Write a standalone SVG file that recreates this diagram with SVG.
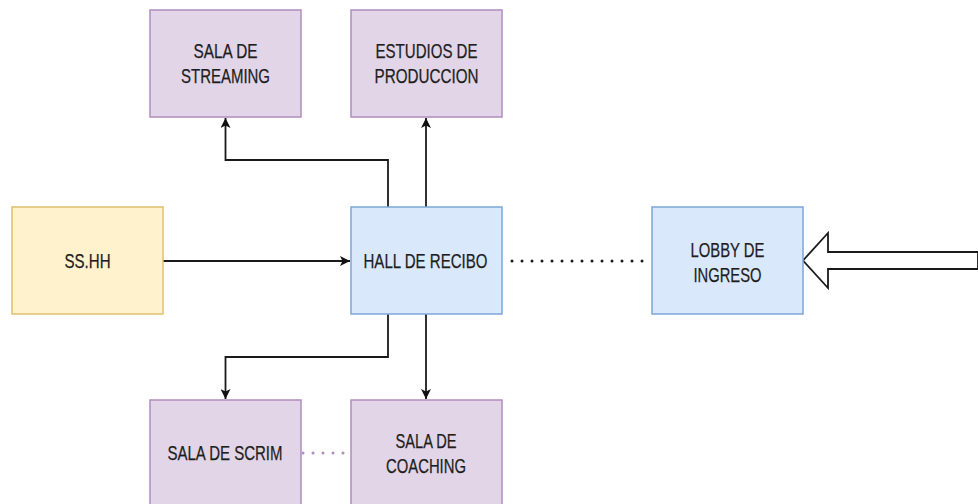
<svg xmlns="http://www.w3.org/2000/svg" width="978" height="504" viewBox="0 0 978 504">
  <style>
    .box { stroke-width: 1.5; }
    .purple { fill: #e1d5e7; stroke: #b08cc0; }
    .yellow { fill: #fff2cc; stroke: #e0c070; }
    .blue { fill: #dae8fc; stroke: #7ea6d8; }
    .lbl { font-family: "Liberation Sans", Arial, sans-serif; font-size: 20px; fill: #1e1e1e; stroke: #1e1e1e; stroke-width: 0.25; text-anchor: middle; }
    .edge { fill: none; stroke: #1a1a1a; stroke-width: 1.8; }
    .dots { fill: none; stroke: #1a1a1a; stroke-width: 3; stroke-dasharray: 0 10; stroke-linecap: round; }
    .pdots { fill: none; stroke: #b08cc0; stroke-width: 3; stroke-dasharray: 0 10; stroke-linecap: round; }
  </style>
  <defs>
    <marker id="arrow" viewBox="0 0 10 10" refX="10" refY="5" markerWidth="11" markerHeight="10" orient="auto" markerUnits="userSpaceOnUse">
      <path d="M0,0 L10,5 L0,10 L2.5,5 Z" fill="#111"/>
    </marker>
  </defs>
  <rect width="978" height="504" fill="#ffffff"/>

  <g id="connectors">
    <path class="edge" d="M388,207 V160 H225.5 V118" marker-end="url(#arrow)"/>
    <path class="edge" d="M426,207 V118" marker-end="url(#arrow)"/>
    <path class="edge" d="M163,261 H350" marker-end="url(#arrow)"/>
    <path class="edge" d="M388,314 V357 H225.5 V399" marker-end="url(#arrow)"/>
    <path class="edge" d="M426,314 V399" marker-end="url(#arrow)"/>
    <path class="dots" d="M512,261 H648"/>
    <path class="pdots" d="M303,453 H345"/>
    <path d="M803,260.5 L828,233 L828,252 L978,252 L978,269 L828,269 L828,288 Z" fill="#ffffff" stroke="#1a1a1a" stroke-width="1.8" stroke-linejoin="miter"/>
  </g>

  <g id="sala-streaming">
    <rect class="box purple" x="150" y="10" width="151" height="107"/>
    <text class="lbl" x="225.5" y="58" textLength="64" lengthAdjust="spacingAndGlyphs">SALA DE</text>
    <text class="lbl" x="225.5" y="83" textLength="89" lengthAdjust="spacingAndGlyphs">STREAMING</text>
  </g>

  <g id="estudios-produccion">
    <rect class="box purple" x="351" y="10" width="151" height="107"/>
    <text class="lbl" x="426.5" y="58" textLength="102" lengthAdjust="spacingAndGlyphs">ESTUDIOS DE</text>
    <text class="lbl" x="426.5" y="83" textLength="104" lengthAdjust="spacingAndGlyphs">PRODUCCION</text>
  </g>

  <g id="sshh">
    <rect class="box yellow" x="12" y="207" width="151" height="107"/>
    <text class="lbl" x="87.5" y="268" textLength="46" lengthAdjust="spacingAndGlyphs">SS.HH</text>
  </g>

  <g id="hall-recibo">
    <rect class="box blue" x="351" y="207" width="151" height="107"/>
    <text class="lbl" x="425.5" y="268" textLength="124" lengthAdjust="spacingAndGlyphs">HALL DE RECIBO</text>
  </g>

  <g id="lobby-ingreso">
    <rect class="box blue" x="652" y="207" width="151" height="107"/>
    <text class="lbl" x="727.5" y="257" textLength="74" lengthAdjust="spacingAndGlyphs">LOBBY DE</text>
    <text class="lbl" x="727.5" y="282" textLength="68" lengthAdjust="spacingAndGlyphs">INGRESO</text>
  </g>

  <g id="sala-scrim">
    <rect class="box purple" x="150" y="400" width="151" height="107"/>
    <text class="lbl" x="225" y="460" textLength="115" lengthAdjust="spacingAndGlyphs">SALA DE SCRIM</text>
  </g>

  <g id="sala-coaching">
    <rect class="box purple" x="351" y="400" width="151" height="107"/>
    <text class="lbl" x="426" y="448" textLength="61" lengthAdjust="spacingAndGlyphs">SALA DE</text>
    <text class="lbl" x="426" y="473" textLength="80" lengthAdjust="spacingAndGlyphs">COACHING</text>
  </g>
</svg>
